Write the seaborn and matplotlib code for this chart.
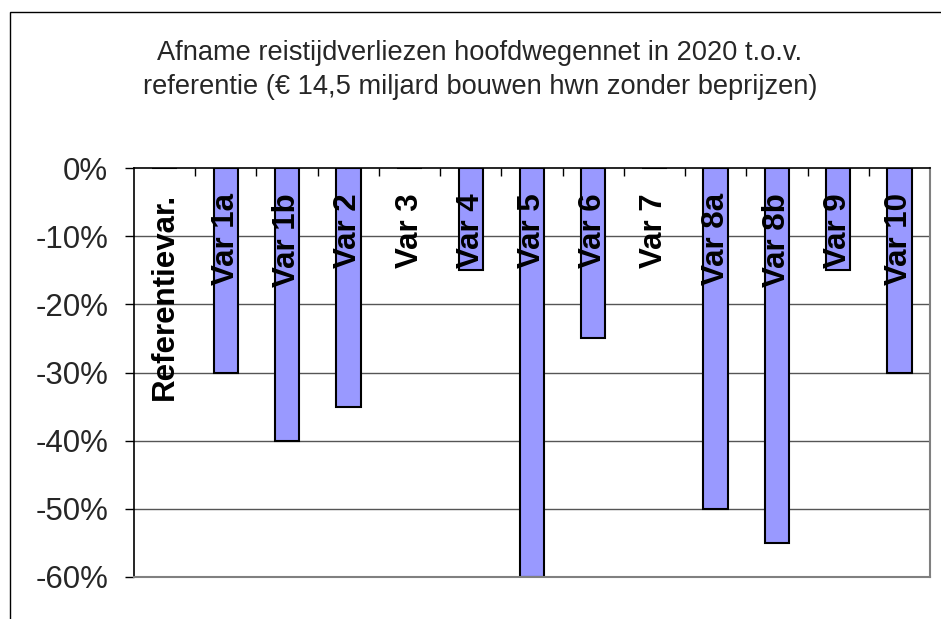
import seaborn as sns
import pandas as pd
import matplotlib
import matplotlib.pyplot as plt
from matplotlib.patches import Rectangle

matplotlib.use('Agg')

sns.set_theme(style="white")
plt.rcParams['font.family'] = ['Liberation Sans', 'DejaVu Sans']

title_text = ("Afname reistijdverliezen hoofdwegennet in 2020 t.o.v.\n"
              "referentie (€ 14,5 miljard bouwen hwn zonder beprijzen)")

# categories and values (% change)
varianten = ['Referentievar.', 'Var 1a', 'Var 1b', 'Var 2', 'Var 3', 'Var 4',
             'Var 5', 'Var 6', 'Var 7', 'Var 8a', 'Var 8b', 'Var 9', 'Var 10']
afname = [0, -30, -40, -35, 0, -15, -60, -25, 0, -50, -55, -15, -30]
y_ticks = [0, -10, -20, -30, -40, -50, -60]
y_tick_labels = ['0%', '-10%', '-20%', '-30%', '-40%', '-50%', '-60%']

data = pd.DataFrame({'Variant': varianten, 'Afname': afname})

fig = plt.figure(figsize=(9.41, 6.19), dpi=100)
ax = fig.add_axes([134 / 941, 1 - 577 / 619, (930 - 134) / 941, (577 - 168) / 619])

sns.barplot(data=data, x='Variant', y='Afname', color='#9999FF',
            saturation=1, edgecolor='black', linewidth=1.5, width=0.4, ax=ax)

ax.set_ylim(-60, 0)
ax.set_xlim(-0.5, len(varianten) - 0.5)

# gridlines
for yv in y_ticks[1:-1]:
    ax.axhline(yv, color='#555555', lw=1, zorder=0)

# category labels inside the chart
for i, name in enumerate(varianten):
    ax.text(i, -3.7, name, rotation=90, ha='center', va='top',
            fontsize=22.5, fontweight='bold', color='black')

ax.set_xlabel('')
ax.set_ylabel('')
ax.set_yticks(y_ticks)
ax.set_yticklabels(y_tick_labels, fontsize=22.5)
ax.tick_params(axis='y', direction='out', length=6.5, width=1, color='black',
               pad=12, left=True)

# category axis at 0 with ticks between categories
ax.xaxis.set_ticks_position('top')
ax.set_xticks([i - 0.5 for i in range(1, len(varianten))], minor=True)
ax.set_xticks([])
ax.tick_params(axis='x', which='minor', direction='in', length=6, width=1,
               color='black', top=True, bottom=False)

for side in ['left', 'top']:
    ax.spines[side].set_color('black')
    ax.spines[side].set_linewidth(1.2)
for side in ['right', 'bottom']:
    ax.spines[side].set_color('#808080')
    ax.spines[side].set_linewidth(1.5)
ax.spines['top'].set_zorder(5)

# outer chart frame
frame = Rectangle((10 / 941, -0.1), 1.1, 1.1 - 12 / 619,
                  transform=fig.transFigure, fill=False,
                  edgecolor='black', linewidth=1)
fig.patches.append(frame)

fig.text(480 / 941, 1 - 70 / 619, title_text, ha='center', va='center',
         fontsize=19.6, linespacing=1.4)

fig.savefig('out.png', dpi=100)
